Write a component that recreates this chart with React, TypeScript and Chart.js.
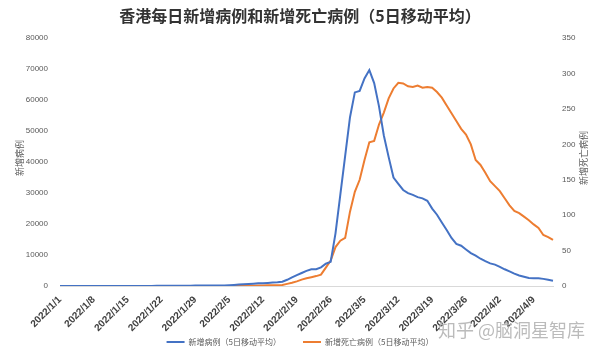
import React, { useEffect, useRef } from 'react';
import { Chart, registerables } from 'chart.js';

Chart.register(...registerables);

const TITLE = '香港每日新增病例和新增死亡病例（5日移动平均）';
const CASES_LABEL = '新增病例（5日移动平均）';
const DEATHS_LABEL = '新增死亡病例（5日移动平均）';
const LEFT_AXIS_TITLE = '新增病例';
const RIGHT_AXIS_TITLE = '新增死亡病例';
const WATERMARK = '知乎 @脑洞星智库';

// Categories: daily dates from 2022/1/1 to 2022/4/13
const DAY_COUNT = 103;
const dates: string[] = [];
for (let i = 0; i < DAY_COUNT; i++) {
  const d = new Date(2022, 0, 1 + i);
  dates.push(`${d.getFullYear()}/${d.getMonth() + 1}/${d.getDate()}`);
}
const TICK_EVERY = 7;

// New cases (5-day moving average)
const cases: number[] = [
  15, 16, 17, 18, 20, 21, 22, 22, 23, 24,
  25, 26, 26, 27, 28, 28, 30, 32, 35, 40,
  50, 60, 70, 80, 90, 100, 110, 120, 125, 130,
  135, 140, 145, 150, 180,
  250, 350, 450, 550, 650, 750, 850, 900, 1000, 1100,
  1200, 1400, 2000, 2800, 3500, 4200, 4900, 5400, 5400, 6000, 7200, 7800,
  17000, 29500, 42000, 54500, 62500, 63000, 67000, 69700, 65500, 58000, 48600, 41600, 35000,
  33000, 31000, 30000, 29400, 28700, 28300, 27500, 25000, 23000, 20500, 18100, 15500, 13600,
  13000, 11800, 10600, 9800, 8800, 8000, 7300, 6900, 6200, 5400, 4700, 4000, 3400, 3000, 2600, 2500, 2500, 2300, 2000, 1700,
];

// New deaths (5-day moving average)
const deaths: number[] = [
  0, 0, 0, 0, 0, 0, 0, 0, 0, 0,
  0, 0, 0, 0, 0, 0, 0, 0, 0, 0,
  0, 0, 0, 0, 0, 0, 0, 0, 0, 0,
  0, 0, 0, 0, 0, 0, 0, 0,
  0.2, 0.4, 0.4, 0.6, 0.8, 1,
  1, 1.2, 1.5, 3, 4.5, 6.5, 9, 11, 12.5, 14, 16, 26, 36,
  55, 64, 68, 105, 133, 150, 178, 203, 205, 228, 245, 265, 279,
  287, 286, 282, 281, 283, 280, 281, 280, 274, 266, 255, 244, 233,
  222, 214, 200, 178, 171, 160, 148, 141, 134, 124, 114, 106, 103, 98, 93, 87, 82, 72, 69, 65,
];

const LEFT_MAX = 80000;
const LEFT_STEP = 10000;
const RIGHT_MAX = 350;
const RIGHT_STEP = 50;

const BLUE = '#4472C4';
const ORANGE = '#ED7D31';
const TEXT = '#595959';

const extraText = {
  id: 'extraText',
  afterDraw(chart: any) {
    const { ctx, chartArea, width } = chart;
    ctx.save();
    ctx.fillStyle = TEXT;
    ctx.font = '9px "Noto Sans CJK SC"';
    ctx.textAlign = 'center';
    ctx.textBaseline = 'middle';
    const cy = (chartArea.top + chartArea.bottom) / 2 - 4;
    ctx.save();
    ctx.translate(chartArea.left - 40, cy);
    ctx.rotate(-Math.PI / 2);
    ctx.fillText(LEFT_AXIS_TITLE, 0, 0);
    ctx.restore();
    ctx.save();
    ctx.translate(chartArea.right + 31, cy);
    ctx.rotate(-Math.PI / 2);
    ctx.fillText(RIGHT_AXIS_TITLE, 0, 0);
    ctx.restore();
    ctx.font = '18px "Noto Sans CJK SC"';
    ctx.fillStyle = 'rgba(175,175,175,0.85)';
    ctx.textAlign = 'right';
    ctx.fillText(WATERMARK, width - 15, 330);
    ctx.restore();
  },
};

export default function App() {
  const ref = useRef<HTMLCanvasElement | null>(null);
  useEffect(() => {
    document.body.style.margin = '0';
    const canvas = ref.current;
    if (!canvas) return;
    const chart = new Chart(canvas, {
      type: 'line',
      data: {
        labels: dates,
        datasets: [
          {
            label: CASES_LABEL,
            data: cases,
            borderColor: BLUE,
            backgroundColor: BLUE,
            borderWidth: 2,
            pointRadius: 0,
            tension: 0,
            yAxisID: 'y',
          },
          {
            label: DEATHS_LABEL,
            data: deaths,
            borderColor: ORANGE,
            backgroundColor: ORANGE,
            borderWidth: 2,
            pointRadius: 0,
            tension: 0,
            yAxisID: 'y1',
          },
        ],
      },
      options: {
        responsive: false,
        animation: false,
        devicePixelRatio: 1,
        layout: { padding: { left: 0, right: 0, top: 0, bottom: 0 } },
        plugins: {
          title: {
            display: true,
            text: TITLE,
            color: '#333333',
            font: { family: '"Noto Sans CJK SC"', size: 16, weight: 'bold' },
            padding: { top: 6, bottom: 13 },
          },
          legend: {
            position: 'bottom',
            labels: {
              usePointStyle: true,
              pointStyle: 'line',
              pointStyleWidth: 18,
              boxHeight: 8,
              color: TEXT,
              padding: 22,
              font: { family: '"Noto Sans CJK SC"', size: 8 },
            },
          },
          tooltip: { enabled: false },
        },
        scales: {
          x: {
            grid: { display: false, drawTicks: false },
            border: { display: true, color: '#D9D9D9', width: 1 },
            ticks: {
              autoSkip: false,
              maxRotation: 45,
              minRotation: 45,
              padding: 8,
              color: '#404040',
              font: { family: '"Liberation Sans"', size: 10, weight: 'bold' },
              callback: (_v: any, i: number) => (i % TICK_EVERY === 0 ? dates[i] : ''),
            },
            afterFit: (s: any) => {
              s.height = 30;
              s._computeLabelArea = () => undefined;
            },
          },
          y: {
            position: 'left',
            min: 0,
            max: LEFT_MAX,
            grid: { display: false, drawTicks: false },
            border: { display: false },
            ticks: {
              stepSize: LEFT_STEP,
              padding: 12,
              color: TEXT,
              font: { family: '"Liberation Sans"', size: 8 },
              callback: (v: any) => String(v),
            },
            afterFit: (s: any) => {
              s.width = 60;
            },
          },
          y1: {
            position: 'right',
            min: 0,
            max: RIGHT_MAX,
            grid: { display: false, drawTicks: false },
            border: { display: false },
            ticks: {
              stepSize: RIGHT_STEP,
              padding: 9,
              color: TEXT,
              font: { family: '"Liberation Sans"', size: 8 },
              callback: (v: any) => String(v),
            },
            afterFit: (s: any) => {
              s.width = 47;
            },
          },
        },
      },
      plugins: [extraText],
    });
    return () => chart.destroy();
  }, []);
  return (
    <div style={{ width: 600, height: 356, background: '#fff' }}>
      <canvas ref={ref} width={600} height={356} />
    </div>
  );
}
